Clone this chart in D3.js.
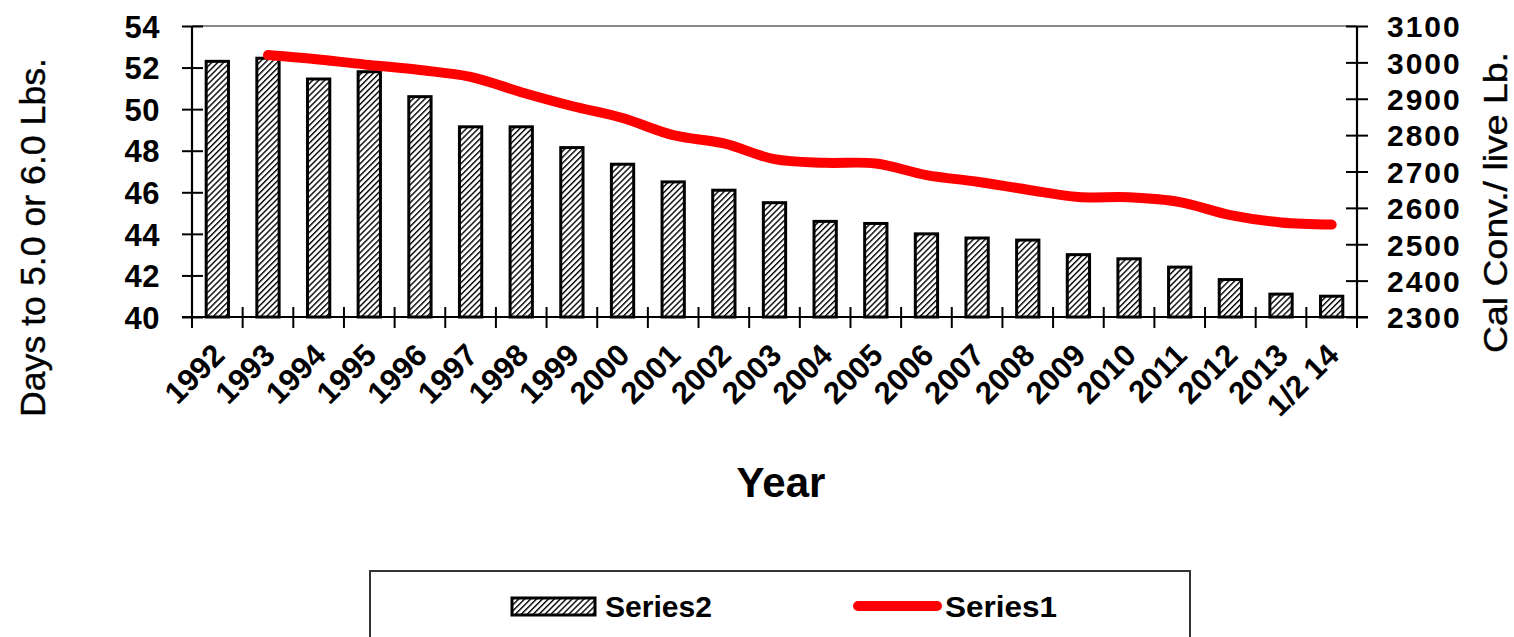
<!DOCTYPE html>
<html><head><meta charset="utf-8">
<script src="https://cdn.jsdelivr.net/npm/d3@7"></script>
<style>
html,body{margin:0;padding:0;background:#fff;}
svg{display:block;font-family:"Liberation Sans",Arial,sans-serif;}
</style></head>
<body><svg id="c" width="1514" height="637"></svg>
<script>
const categories = ['1992','1993','1994','1995','1996','1997','1998','1999','2000','2001','2002','2003','2004','2005','2006','2007','2008','2009','2010','2011','2012','2013','1/2 14'];
const series2 = [52.3,52.45,51.45,51.8,50.6,49.15,49.15,48.15,47.35,46.5,46.1,45.5,44.6,44.5,44.0,43.8,43.7,43.0,42.8,42.4,41.8,41.1,41.0];
const series1 = [null,3020,3008,2993,2979,2960,2918,2880,2847,2800,2777,2734,2724,2722,2690,2672,2650,2630,2629,2616,2580,2560,2554];
const leftTicks = [40,42,44,46,48,50,52,54];
const rightTicks = [2300,2400,2500,2600,2700,2800,2900,3000,3100];

const svg = d3.select('#c');
const L = 192, R = 1357, T = 26, B = 317;

const x = d3.scaleBand().domain(categories).range([L, R]).paddingInner(0).paddingOuter(0);
const yL = d3.scaleLinear().domain([40, 54]).range([B, T]);
const yR = d3.scaleLinear().domain([2300, 3100]).range([B, T]);

// hatch pattern
const defs = svg.append('defs');
const pat = defs.append('pattern').attr('id','hatch').attr('patternUnits','userSpaceOnUse')
  .attr('width',4.2).attr('height',4.2).attr('patternTransform','rotate(45)');
pat.append('rect').attr('width',4.2).attr('height',4.2).attr('fill','#fff');
pat.append('line').attr('x1',0.7).attr('y1',0).attr('x2',0.7).attr('y2',4.2).attr('stroke','#000').attr('stroke-width',1.4);

// top border of plot area
svg.append('line').attr('x1',L).attr('x2',R).attr('y1',T).attr('y2',T).attr('stroke','#888').attr('stroke-width',2);

// bars
const bw = x.bandwidth()*0.44;
svg.append('g').selectAll('rect').data(categories).join('rect')
  .attr('x', (d)=> x(d) + x.bandwidth()/2 - bw/2)
  .attr('y', (d,i)=> yL(series2[i]))
  .attr('width', bw)
  .attr('height', (d,i)=> B - yL(series2[i]))
  .attr('fill','url(#hatch)').attr('stroke','#000').attr('stroke-width',3);

// left axis
const gL = svg.append('g').attr('transform',`translate(${L},0)`)
  .call(d3.axisLeft(yL).tickValues(leftTicks).tickSize(10).tickPadding(22).tickFormat(d3.format('d')));
gL.select('.domain').attr('stroke','#000').attr('stroke-width',2.2).attr('d',`M0,${T}V${B}`);
gL.selectAll('.tick line').attr('x1',-10).attr('x2',11).attr('stroke','#000').attr('stroke-width',2);
gL.selectAll('.tick text').attr('font-size',31).attr('font-weight','bold').attr('fill','#000')
  .attr('font-family','"Liberation Sans",Arial,sans-serif').attr('letter-spacing',0.5).attr('dy','0.36em');

// right axis
const gR = svg.append('g').attr('transform',`translate(${R},0)`)
  .call(d3.axisRight(yR).tickValues(rightTicks).tickSize(11).tickPadding(19).tickFormat(d3.format('d')));
gR.select('.domain').attr('stroke','#000').attr('stroke-width',2.2).attr('d',`M0,${T}V${B}`);
gR.selectAll('.tick line').attr('x1',-11).attr('x2',11).attr('stroke','#000').attr('stroke-width',2);
gR.selectAll('.tick text').attr('font-size',30).attr('font-weight','bold').attr('fill','#000')
  .attr('font-family','"Liberation Sans",Arial,sans-serif').attr('letter-spacing',2).attr('dy','0.36em');

// bottom axis
const gB = svg.append('g').attr('transform',`translate(0,${B})`)
  .call(d3.axisBottom(x).tickSize(0).tickPadding(0));
gB.select('.domain').attr('stroke','#000').attr('stroke-width',2.2).attr('d',`M${L-10},0H${R+11}`);
gB.selectAll('.tick text')
  .attr('font-size',31).attr('font-weight','bold').attr('fill','#000')
  .attr('font-family','"Liberation Sans",Arial,sans-serif')
  .attr('text-anchor','end').attr('dy',null).attr('y',null)
  .attr('transform','translate(9,40) rotate(-45)');
// category boundary ticks
const bounds = categories.map(d => x(d)).concat([x(categories[categories.length-1]) + x.step()]);
svg.append('g').selectAll('line').data(bounds).join('line')
  .attr('x1',d=>d).attr('x2',d=>d).attr('y1',B-10).attr('y2',B+11)
  .attr('stroke','#000').attr('stroke-width',2);

// line series1
const lineGen = d3.line()
  .defined(d => d != null)
  .x((d,i) => x(categories[i]) + x.bandwidth()/2)
  .y(d => yR(d))
  .curve(d3.curveCatmullRom.alpha(0.5));
svg.append('path').datum(series1).attr('d', lineGen)
  .attr('fill','none').attr('stroke','#ff0000').attr('stroke-width',10)
  .attr('stroke-linecap','round').attr('stroke-linejoin','round');

// axis titles
svg.append('text').attr('transform','translate(45,237.5) rotate(-90)')
  .attr('text-anchor','middle').attr('font-size',35).attr('fill','#000')
  .attr('stroke','#000').attr('stroke-width',0.4)
  .attr('textLength',359).attr('lengthAdjust','spacingAndGlyphs')
  .text('Days to 5.0 or 6.0 Lbs.');
svg.append('text').attr('transform','translate(1507,202.5) rotate(-90)')
  .attr('text-anchor','middle').attr('font-size',34).attr('fill','#000')
  .attr('stroke','#000').attr('stroke-width',0.4)
  .attr('textLength',301).attr('lengthAdjust','spacingAndGlyphs')
  .text('Cal Conv./ live  Lb.');
svg.append('text').attr('x',781).attr('y',497)
  .attr('text-anchor','middle').attr('font-size',42).attr('font-weight','bold').attr('fill','#000')
  .text('Year');

// legend
svg.append('rect').attr('x',370).attr('y',571).attr('width',820).attr('height',90)
  .attr('fill','#fff').attr('stroke','#333').attr('stroke-width',2);
svg.append('rect').attr('x',512).attr('y',598).attr('width',83).attr('height',17)
  .attr('fill','url(#hatch)').attr('stroke','#000').attr('stroke-width',3);
svg.append('text').attr('x',605).attr('y',617).attr('font-size',30).attr('font-weight','bold')
  .attr('textLength',107).attr('lengthAdjust','spacingAndGlyphs').text('Series2');
svg.append('line').attr('x1',858).attr('x2',937).attr('y1',606).attr('y2',606)
  .attr('stroke','#ff0000').attr('stroke-width',10).attr('stroke-linecap','round');
svg.append('text').attr('x',945).attr('y',617).attr('font-size',30).attr('font-weight','bold')
  .attr('textLength',112).attr('lengthAdjust','spacingAndGlyphs').text('Series1');
</script></body></html>
